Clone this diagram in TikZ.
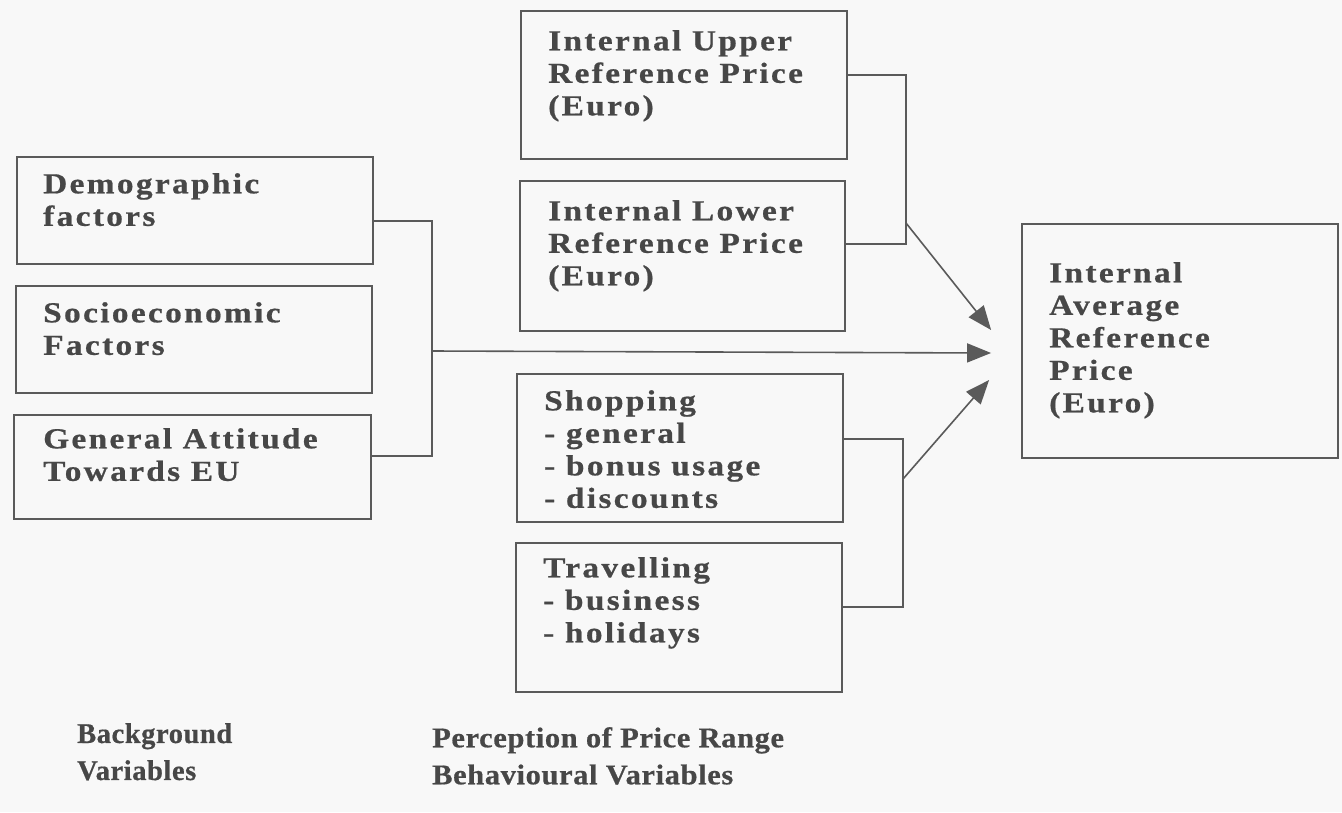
\documentclass[tikz,border=0pt]{standalone}
\usepackage{fontspec}
\setmainfont{Liberation Serif}
\newfontfamily\boxfont{Liberation Serif Bold}[LetterSpace=7, FakeBold=0.6]
\newfontfamily\capfont{Liberation Serif Bold}[LetterSpace=2, FakeBold=0.6]
\usetikzlibrary{arrows.meta}

\definecolor{paper}{HTML}{F8F8F8}
\definecolor{ink}{HTML}{474747}
\definecolor{rule}{HTML}{5A5A5A}

\tikzset{
  panel/.style 2 args={draw=rule, line width=1.8pt, minimum width=#1pt, minimum height=#2pt, inner sep=0pt},
  boxtext/.style={anchor=north west, align=left, inner sep=0pt, text=ink,
    xscale=1.15, transform shape,
    font=\boxfont\fontsize{29}{32.5}\selectfont},
  caption/.style={anchor=north west, align=left, inner sep=0pt, text=ink,
    font=\capfont\fontsize{28.5}{37}\selectfont},
  wide caption/.style={caption, xscale=1.07, transform shape},
  wire/.style={draw=rule, line width=1.6pt},
  arrow/.style={wire, -{Triangle[length=24pt,width=19pt]}}
}

\begin{document}
\begin{tikzpicture}[x=1pt,y=-1pt]
  \fill[paper] (0,0) rectangle (1342,812);
  \useasboundingbox (0,0) rectangle (1342,812);

  % background variables
  \node[panel={356}{107}] (demo)  at (195,210.5) {};
  \node[panel={356}{107}] (socio) at (194,339.5) {};
  \node[panel={357}{104}] (attit) at (192.5,467) {};
  \node[boxtext] (demoT)  at (43,173) {Demographic\\factors};
  \node[boxtext] (socioT) at (43,302) {Socioeconomic\\Factors};
  \node[boxtext] (attitT) at (43,428) {General Attitude\\Towards EU};

  % perception of price range
  \node[panel={326}{148}] (upper) at (684,85) {};
  \node[panel={325}{150}] (lower) at (682.5,256) {};
  \node[boxtext] (upperT) at (548,30)  {Internal Upper\\Reference Price\\(Euro)};
  \node[boxtext] (lowerT) at (548,200) {Internal Lower\\Reference Price\\(Euro)};

  % behavioural variables
  \node[panel={326}{148}] (shop)   at (680,448) {};
  \node[panel={326}{149}] (travel) at (679,617.5) {};
  \node[boxtext] (shopT)   at (544,390) {Shopping\\- general\\- bonus usage\\- discounts};
  \node[boxtext] (travelT) at (543,557) {Travelling\\- business\\- holidays};

  % outcome
  \node[panel={316}{234}] (avg) at (1180,341) {};
  \node[boxtext] (avgT) at (1049,262) {Internal\\Average\\Reference\\Price\\(Euro)};

  % column captions
  \node[caption] (capA) at (77,723) {Background\\Variables};
  \node[wide caption] (capB) at (432,727) {Perception of Price Range\\Behavioural Variables};

  % bracket corners, joints and arrow tips
  \coordinate (cL1) at (432,221);
  \coordinate (cL2) at (432,456);
  \coordinate (jL)  at (432,351);
  \coordinate (cU1) at (906,75);
  \coordinate (cU2) at (906,244);
  \coordinate (jU)  at (906,223);
  \coordinate (cB1) at (903,439);
  \coordinate (cB2) at (903,607);
  \coordinate (jB)  at (903,479);
  \coordinate (tipU) at ([xshift=-30pt,yshift=11pt]avg.west);
  \coordinate (tipM) at ([xshift=-30pt,yshift=-12pt]avg.west);
  \coordinate (tipB) at ([xshift=-32pt,yshift=-39pt]avg.west);

  % left bracket
  \draw[wire] (cL1 -| demo.east) -- (cL1) -- (cL2) -- (cL2 -| attit.east);
  \draw[arrow] (jL) -- (tipM);

  % upper bracket
  \draw[wire] (cU1 -| upper.east) -- (cU1) -- (cU2) -- (cU2 -| lower.east);
  \draw[arrow] (jU) -- (tipU);

  % lower bracket
  \draw[wire] (cB1 -| shop.east) -- (cB1) -- (cB2) -- (cB2 -| travel.east);
  \draw[arrow] (jB) -- (tipB);
\end{tikzpicture}
\end{document}
